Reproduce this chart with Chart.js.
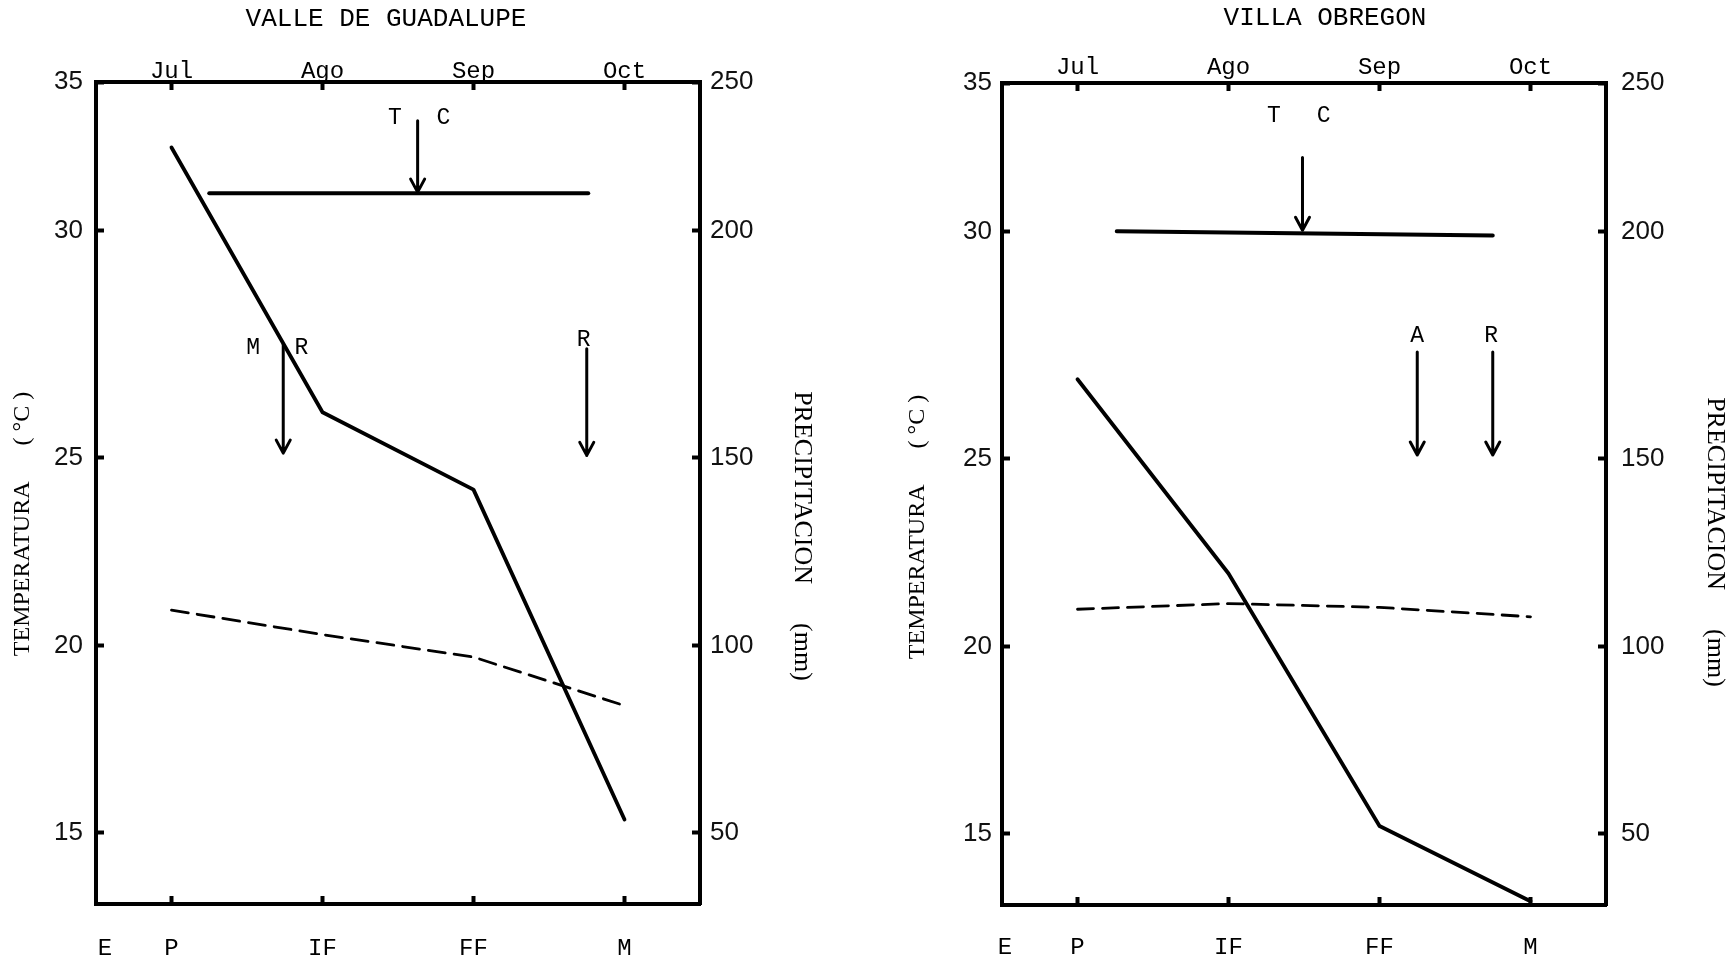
<!DOCTYPE html>
<html>
<head>
<meta charset="utf-8">
<title>Temperatura y precipitación por etapa</title>
<script src="https://cdn.jsdelivr.net/npm/chart.js@4/dist/chart.umd.min.js"></script>
<style>
  html, body { margin: 0; padding: 0; background: #fff; overflow: hidden; }
  .panel { position: absolute; top: 0; height: 963px; }
  #guadalupe { left: 0; width: 867px; }
  #obregon { left: 867px; width: 868px; }
</style>
</head>
<body>
<div class="panel" id="guadalupe"><canvas id="GuadalupeChart"></canvas></div>
<div class="panel" id="obregon"><canvas id="ObregonChart"></canvas></div>
<script>
// axis labels: crop stages below, months above
const stageLabels = ['E', 'P', 'IF', 'FF', 'M'];
const monthLabels = ['Jul', 'Ago', 'Sep', 'Oct'];
const monthTicks = [0.5, 1.5, 2.5, 3.5];
const tempTicks = [15, 20, 25, 30, 35];
const precipTicks = [50, 100, 150, 200, 250];
// the hand drawn axes are not evenly spaced, so each tick is a knot
const tempKnots = [13.1, 15, 20, 25, 30, 35];
const precipKnots = [31, 50, 100, 150, 200, 250];

// Valle de Guadalupe
const guadalupeStages = [0.06, 0.5, 1.5, 2.5, 3.5];
const guadalupePrecip = [228, 160, 141.5, 53.5];
const guadalupeTemp = [20.95, 20.3, 19.7, 18.4];
const guadalupeTCSpan = [0.75, 3.26];
const guadalupeTC = [31.26, 31.26];
const guadalupeArrows = [
    { x: 2.13, from: 33.7, to: 31.3 },
    { x: 1.24, from: 27.5, to: 25.1 },
    { x: 3.25, from: 27.4, to: 25.05 }
];
const guadalupeLetters = [
    { text: 'T', x: 1.98, y: 33.8 }, { text: 'C', x: 2.3, y: 33.8 },
    { text: 'M', x: 1.04, y: 27.42 }, { text: 'R', x: 1.36, y: 27.42 },
    { text: 'R', x: 3.23, y: 27.6 }
];

// Villa Obregon
const obregonStages = [0.02, 0.5, 1.5, 2.5, 3.5];
const obregonPrecip = [167.5, 119.5, 52, 32];
const obregonTemp = [21.0, 21.15, 21.05, 20.8];
const obregonTCSpan = [0.76, 3.25];
const obregonTC = [30.02, 29.92];
const obregonArrows = [
    { x: 1.99, from: 32.5, to: 30.05 },
    { x: 2.75, from: 27.35, to: 25.08 },
    { x: 3.25, from: 27.35, to: 25.08 }
];
const obregonLetters = [
    { text: 'T', x: 1.8, y: 33.9 }, { text: 'C', x: 2.13, y: 33.9 },
    { text: 'A', x: 2.75, y: 27.7 }, { text: 'R', x: 3.24, y: 27.7 }
];

// linear scale that maps values piecewise between knots
class KnotScale extends Chart.LinearScale {
    static id = 'knot';
    static defaults = {};

    getPixelForValue(value) {
        const v = this.options.knotValues, f = this.options.knotFractions;
        let i = 1;
        while (i < v.length - 1 && value > v[i]) i++;
        const t = f[i - 1] + (value - v[i - 1]) / (v[i] - v[i - 1]) * (f[i] - f[i - 1]);
        return this.getPixelForDecimal(t);
    }

    getValueForPixel(pixel) {
        const v = this.options.knotValues, f = this.options.knotFractions;
        const t = this.getDecimalForPixel(pixel);
        let i = 1;
        while (i < f.length - 1 && t > f[i]) i++;
        return v[i - 1] + (t - f[i - 1]) / (f[i] - f[i - 1]) * (v[i] - v[i - 1]);
    }
}
Chart.register(KnotScale);

function turned(ctx, text, at, angle) {
    ctx.save();
    ctx.translate(at[0], at[1]);
    ctx.rotate(angle);
    ctx.fillText(text, 0, 0);
    ctx.restore();
}

// arrows, letters, headline and side titles
function paperMarks(d, look) {
    return {
        id: 'paperMarks',
        afterDatasetsDraw(chart) {
            const { ctx, scales: { x, y } } = chart;
            ctx.save();
            ctx.strokeStyle = '#000';
            ctx.lineWidth = 3;
            ctx.lineCap = 'round';
            ctx.lineJoin = 'round';
            for (const a of d.arrows) {
                const px = x.getPixelForValue(a.x);
                const top = y.getPixelForValue(a.from);
                const tip = y.getPixelForValue(a.to);
                ctx.beginPath();
                ctx.moveTo(px, top);
                ctx.lineTo(px, tip);
                ctx.moveTo(px - 7, tip - 13);
                ctx.lineTo(px, tip);
                ctx.lineTo(px + 7, tip - 13);
                ctx.stroke();
            }
            ctx.fillStyle = '#000';
            ctx.textAlign = 'center';
            ctx.textBaseline = 'middle';
            ctx.font = '23px "Liberation Mono"';
            for (const l of d.letters) {
                ctx.fillText(l.text, x.getPixelForValue(l.x), y.getPixelForValue(l.y));
            }
            ctx.font = '26px "Liberation Mono"';
            ctx.fillText(d.name, look.nameAt[0], look.nameAt[1]);
            ctx.font = '24px "Liberation Serif"';
            turned(ctx, 'TEMPERATURA      ( °C )', look.tempTitleAt, -Math.PI / 2);
            ctx.font = '26px "Liberation Serif"';
            turned(ctx, 'PRECIPITACION      (mm)', look.rainTitleAt, Math.PI / 2);
            ctx.restore();
        }
    };
}

function buildChart(canvasId, d, look) {
    const seriesX = d.stages.slice(1);
    const pts = (xs, ys) => ys.map((v, i) => ({ x: xs[i], y: v }));
    const knotFractions = [0, 0.087, 0.314, 0.543, 0.819, 1];
    const tickStyle = { display: true, drawOnChartArea: false, drawTicks: true, tickLength: -8, tickWidth: 4, tickColor: '#000' };
    const frame = { display: true, width: 4, color: '#000' };
    const numberFont = { family: 'Liberation Sans', size: 26 };
    const typeFont = { family: 'Liberation Mono', size: 24, lineHeight: 1 };

    return new Chart(document.getElementById(canvasId), {
        type: 'line',
        data: {
            datasets: [{
                label: 'Precipitación (mm)',
                data: pts(seriesX, d.precip),
                yAxisID: 'y2',
                borderColor: '#000',
                borderWidth: 3.8,
                clip: false
            }, {
                label: 'Temperatura (°C)',
                data: pts(seriesX, d.temp),
                yAxisID: 'y',
                borderColor: '#000',
                borderWidth: 2.8,
                borderDash: look.dash,
                clip: false
            }, {
                label: 'T C',
                data: pts(d.tcSpan, d.tc),
                yAxisID: 'y',
                borderColor: '#000',
                borderWidth: 4,
                clip: false
            }]
        },
        options: {
            responsive: true,
            maintainAspectRatio: false,
            animation: false,
            events: [],
            layout: { autoPadding: false, padding: 0 },
            elements: {
                point: { radius: 0 },
                line: { tension: 0, fill: false, borderCapStyle: 'round', borderJoinStyle: 'round' }
            },
            plugins: { legend: { display: false }, tooltip: { enabled: false } },
            scales: {
                x: {
                    type: 'linear', axis: 'x', position: 'bottom', min: 0, max: 4,
                    afterBuildTicks: s => { s.ticks = d.stages.map(v => ({ value: v })); },
                    afterFit: s => { s.height = look.bottom; },
                    ticks: {
                        autoSkip: false, maxRotation: 0, padding: look.stagePad,
                        font: typeFont, color: '#000',
                        callback: (v, i) => stageLabels[i]
                    },
                    grid: { ...tickStyle, tickColor: c => c.index === 0 ? 'rgba(0,0,0,0)' : '#000' },
                    border: frame
                },
                xTop: {
                    type: 'linear', axis: 'x', position: 'top', min: 0, max: 4,
                    afterBuildTicks: s => { s.ticks = monthTicks.map(v => ({ value: v })); },
                    afterFit: s => { s.height = look.top; },
                    ticks: {
                        autoSkip: false, maxRotation: 0, padding: look.monthPad,
                        font: typeFont, color: '#000',
                        callback: (v, i) => monthLabels[i]
                    },
                    grid: tickStyle,
                    border: frame
                },
                y: {
                    type: 'knot', axis: 'y', position: 'left', min: 13.1, max: 35,
                    bounds: 'data',
                    knotValues: tempKnots, knotFractions,
                    afterBuildTicks: s => { s.ticks = tempTicks.map(v => ({ value: v })); },
                    afterFit: s => { s.width = look.left; },
                    ticks: { padding: look.leftPad, font: numberFont, color: '#111' },
                    grid: tickStyle,
                    border: frame
                },
                y2: {
                    type: 'knot', axis: 'y', position: 'right', min: 31, max: 250,
                    bounds: 'data',
                    knotValues: precipKnots, knotFractions,
                    afterBuildTicks: s => { s.ticks = precipTicks.map(v => ({ value: v })); },
                    afterFit: s => { s.width = look.right; },
                    ticks: { padding: look.rightPad, font: numberFont, color: '#111' },
                    grid: tickStyle,
                    border: frame
                }
            }
        },
        plugins: [paperMarks(d, look)]
    });
}

const GuadalupeChart = buildChart('GuadalupeChart', {
    name: 'VALLE DE GUADALUPE',
    stages: guadalupeStages,
    precip: guadalupePrecip,
    temp: guadalupeTemp,
    tcSpan: guadalupeTCSpan,
    tc: guadalupeTC,
    arrows: guadalupeArrows,
    letters: guadalupeLetters
}, {
    left: 96, right: 167, top: 82, bottom: 59,
    leftPad: 21, rightPad: 18, monthPad: 6, stagePad: 41,
    dash: [17, 9],
    nameAt: [386, 19], tempTitleAt: [23, 524], rainTitleAt: [802, 536]
});

const ObregonChart = buildChart('ObregonChart', {
    name: 'VILLA OBREGON',
    stages: obregonStages,
    precip: obregonPrecip,
    temp: obregonTemp,
    tcSpan: obregonTCSpan,
    tc: obregonTC,
    arrows: obregonArrows,
    letters: obregonLetters
}, {
    left: 135, right: 129, top: 83, bottom: 58,
    leftPad: 18, rightPad: 23, monthPad: 11, stagePad: 39,
    dash: [16, 9],
    nameAt: [458, 18], tempTitleAt: [51, 527], rainTitleAt: [848, 542]
});
</script>
</body>
</html>
